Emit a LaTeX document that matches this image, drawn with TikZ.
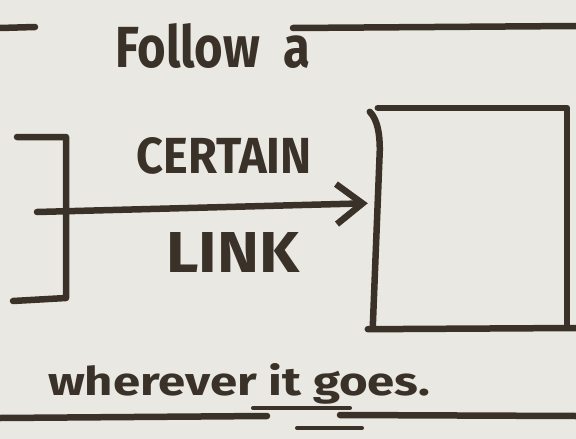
\documentclass[tikz,border=0pt]{standalone}
\usepackage{fontspec}
\setmainfont{Fira Sans}
\usetikzlibrary{arrows.meta,calc}
\definecolor{paper}{HTML}{E9E8E3}
\definecolor{ink}{HTML}{3A3128}
\begin{document}
\begin{tikzpicture}[x=1pt,y=-1pt,line cap=round,line join=round,
  inkline/.style={draw=ink,line width=6.5pt},
  thinink/.style={draw=ink,line width=4pt},
  hand/.style={text=ink,inner sep=0pt,font=\bfseries}]
\fill[paper] (0,0) rectangle (576,439);
\useasboundingbox (0,0) rectangle (576,439);
% top rules
\draw[inkline] (0,28) -- (35,27);
\draw[inkline] (293,28) -- (576,26);
\node[hand,anchor=base west] (follow) at (115,67) {\resizebox{195pt}{44pt}{Follow\ \ a}};
% box
\node[minimum width=189pt,minimum height=218pt,inner sep=0pt] (box) at (472.5,217) {};
\draw[inkline] (box.north west) -- (box.north east) -- (box.south east);
\draw[inkline] ($(box.north west)+(-8,4)$) .. controls ($(box.north west)+(0,12)$) and ($(box.north west)+(2,27)$) .. ($(box.north west)+(2,42)$) -- ($(box.south west)+(-5,0)$);
\coordinate (rightedge) at (576,328);
\draw[inkline] ($(box.south west)+(-10,3)$) -- (rightedge);
% bracket
\draw[inkline] (17,137) -- (66,137) -- (66,298) -- (13,301);
% arrow
\coordinate (start) at (37,212);
\coordinate (tipy) at (0,203);
\draw[inkline,shorten >=10pt,-{Straight Barb[length=26pt,width=40pt]}] (start) -- (box.west |- tipy);
\node[hand] (certain) at (224,156) {\resizebox{175pt}{36pt}{CERTAIN}};
\node[hand] (link) at (233,252) {\resizebox{133pt}{40pt}{LINK}};
% bottom
\node[hand,anchor=base west] (wherever) at (48,395) {\resizebox{382pt}{32pt}{wherever it goes.}};
\draw[inkline] (0,418) -- (267,416);
\draw[thinink] (253,408) -- (350,408);
\draw[inkline] (340,415) -- (576,416);
\draw[thinink] (297,428) -- (362,428);
\end{tikzpicture}
\end{document}
